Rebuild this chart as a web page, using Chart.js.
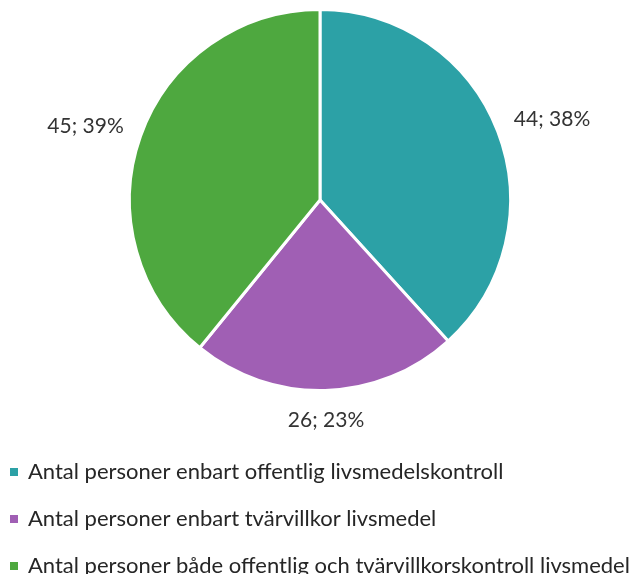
<!DOCTYPE html>
<html>
<head>
<meta charset="utf-8">
<script src="https://cdn.jsdelivr.net/npm/chart.js@4"></script>
<style>
  html, body { margin: 0; padding: 0; background: #fff; }
  #wrap { width: 644px; height: 574px; position: relative; }
</style>
</head>
<body>
<div id="wrap"><canvas id="pie"></canvas></div>
<script>
// categories and values
const categories = [
  'Antal personer enbart offentlig livsmedelskontroll',
  'Antal personer enbart tvärvillkor livsmedel',
  'Antal personer både offentlig och tvärvillkorskontroll livsmedel'
];
const counts = [44, 26, 45];
const percentLabels = ['38%', '23%', '39%'];
const colors = ['#2ca1a6', '#a05fb4', '#4ea83f'];

const FONT = 'Lato, "Open Sans", sans-serif';

// draws "n; p%" labels outside each slice, plus the legend underneath
const outsideLabels = {
  id: 'outsideLabels',
  afterDraw(chart) {
    const ctx = chart.ctx;
    const arcs = chart.getDatasetMeta(0).data;
    ctx.save();
    ctx.font = '21px ' + FONT;
    ctx.fillStyle = '#333';
    ctx.textAlign = 'center';
    ctx.textBaseline = 'middle';
    arcs.forEach((arc, i) => {
      const p = arc.getProps(['x', 'y', 'startAngle', 'endAngle', 'outerRadius'], true);
      const mid = (p.startAngle + p.endAngle) / 2;
      const text = counts[i] + '; ' + percentLabels[i];
      const halfW = ctx.measureText(text).width / 2;
      const halfH = 10;
      const c = Math.cos(mid), s = Math.sin(mid);
      const r = p.outerRadius + 19 + Math.abs(c) * halfW + Math.abs(s) * halfH;
      // side labels sit a little lower in the reference
      ctx.fillText(text, p.x + c * r, p.y + s * r + 10 * Math.abs(c));
    });

    // legend
    const legendTop = 472, legendStep = 47;
    ctx.textAlign = 'left';
    ctx.font = '22px ' + FONT;
    categories.forEach((cat, i) => {
      const y = legendTop + i * legendStep;
      ctx.fillStyle = colors[i];
      ctx.fillRect(10, y - 4, 8, 8);
      ctx.fillStyle = '#262626';
      ctx.fillText(cat, 28, y);
    });
    ctx.restore();
  }
};

new Chart(document.getElementById('pie'), {
  type: 'pie',
  data: {
    labels: categories,
    datasets: [{
      data: counts,
      backgroundColor: colors,
      borderColor: '#ffffff',
      borderWidth: 3,
      hoverOffset: 0
    }]
  },
  options: {
    responsive: true,
    maintainAspectRatio: false,
    animation: false,
    layout: { padding: { top: 8, bottom: 182, left: 0, right: 4 } },
    plugins: {
      legend: { display: false },
      tooltip: { enabled: false }
    }
  },
  plugins: [outsideLabels]
});
</script>
</body>
</html>
